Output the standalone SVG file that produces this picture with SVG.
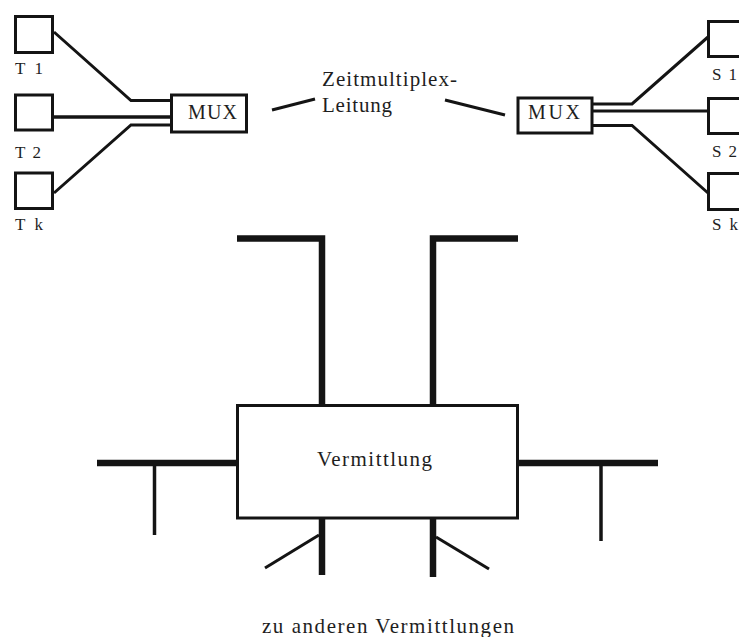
<svg xmlns="http://www.w3.org/2000/svg" width="739" height="637" viewBox="0 0 739 637">
<style>
  .box { fill: #fff; stroke: #141414; stroke-width: 3; }
  .ln { fill: none; stroke: #141414; stroke-width: 3; stroke-linecap: butt; }
  .thick { fill: none; stroke: #141414; stroke-width: 6.5; stroke-linecap: butt; }
  .mid { fill: none; stroke: #141414; stroke-width: 3.5; stroke-linecap: butt; }
  text { font-family: "Liberation Serif", "DejaVu Serif", serif; fill: #1e1e1e; }
  .lbl { font-size: 17px; }
  .mux { font-size: 20px; }
  .big { font-size: 21px; }
</style>
<rect width="739" height="637" fill="#fff"/>

<g id="connectors">
  <polyline class="ln" points="54,32 131,100.5 171,100.5"/>
  <line class="mid" x1="54" y1="117" x2="171" y2="117"/>
  <polyline class="ln" points="54,193 131,125 171,125"/>
  <polyline class="ln" points="593,104 632,104 708,37"/>
  <line class="ln" x1="593" y1="111" x2="708" y2="111"/>
  <polyline class="ln" points="593,125.5 632,125.5 708,193"/>
  <line class="ln" x1="272" y1="110" x2="315" y2="99"/>
  <line class="ln" x1="445" y1="100" x2="505" y2="115"/>
  <polyline class="thick" points="237,238.5 322,238.5 322,405"/>
  <polyline class="thick" points="518,238.5 433,238.5 433,405"/>
  <line class="thick" x1="97" y1="463" x2="237" y2="463"/>
  <line class="mid" x1="154.5" y1="463" x2="154.5" y2="535"/>
  <line class="thick" x1="518" y1="463" x2="658" y2="463"/>
  <line class="mid" x1="601" y1="463" x2="601" y2="541"/>
  <line class="thick" x1="322" y1="518" x2="322" y2="575"/>
  <line class="ln" x1="319" y1="535" x2="265" y2="568"/>
  <line class="thick" x1="433" y1="515" x2="433" y2="577"/>
  <line class="ln" x1="436" y1="537" x2="489" y2="569"/>
</g>

<g id="T1">
  <rect class="box" x="15.5" y="16.5" width="37" height="36"/>
  <text class="lbl" x="15" y="74" textLength="28" lengthAdjust="spacing">T1</text>
</g>
<g id="T2">
  <rect class="box" x="15.5" y="95" width="37" height="35"/>
  <text class="lbl" x="15" y="158" textLength="26" lengthAdjust="spacing">T2</text>
</g>
<g id="Tk">
  <rect class="box" x="15.5" y="173" width="37" height="35.5"/>
  <text class="lbl" x="15" y="230" textLength="28" lengthAdjust="spacing">Tk</text>
</g>

<g id="MUX-left">
  <rect class="box" x="171.5" y="95" width="75" height="37"/>
  <text class="mux" x="188" y="119" textLength="49" lengthAdjust="spacing">MUX</text>
</g>

<g id="Zeitmultiplex-Leitung">
  <text class="big" x="322" y="86" textLength="135" lengthAdjust="spacing">Zeitmultiplex-</text>
  <text class="big" x="322" y="112" textLength="70" lengthAdjust="spacing">Leitung</text>
</g>

<g id="MUX-right">
  <rect class="box" x="518" y="98" width="74" height="35"/>
  <text class="mux" x="528" y="119" textLength="52" lengthAdjust="spacing">MUX</text>
</g>

<g id="S1">
  <rect class="box" x="708.5" y="21.5" width="37" height="35"/>
  <text class="lbl" x="712" y="80" textLength="25" lengthAdjust="spacing">S1</text>
</g>
<g id="S2">
  <rect class="box" x="708.5" y="98.5" width="37" height="35"/>
  <text class="lbl" x="712" y="157" textLength="25" lengthAdjust="spacing">S2</text>
</g>
<g id="Sk">
  <rect class="box" x="708.5" y="173.5" width="37" height="36"/>
  <text class="lbl" x="712" y="230" textLength="26" lengthAdjust="spacing">Sk</text>
</g>

<g id="Vermittlung">
  <rect class="box" x="237.5" y="405.5" width="280" height="112.5"/>
  <text class="big" x="317" y="466" textLength="115" lengthAdjust="spacing">Vermittlung</text>
</g>

<g id="label-bottom">
  <text class="big" x="262" y="633" textLength="252" lengthAdjust="spacing">zu anderen Vermittlungen</text>
</g>
</svg>
